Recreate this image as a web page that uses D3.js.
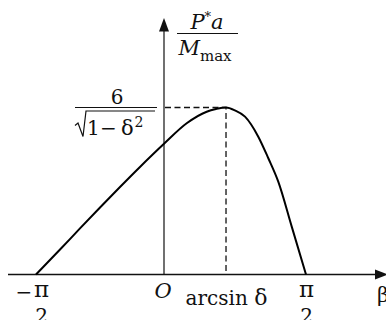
<!DOCTYPE html>
<html>
<head>
<meta charset="utf-8">
<script src="https://cdn.jsdelivr.net/npm/d3@7"></script>
<style>
  body { margin: 0; background: #fff; }
  svg { display: block; }
  text { font-family: "DejaVu Serif", serif; fill: #111; }
</style>
</head>
<body>
<svg id="chart" width="386" height="320"></svg>
<script>
const PI = Math.PI;

// Sampled curve: angle β (radians) and load ratio P*a / M_max
const betaValues  = [-PI / 2, -1.276, -1.031, -0.785, -0.540, -0.295, 0, 0.251, 0.472, 0.575, 0.686, 0.785, 0.896, 1.043, 1.154, 1.264, 1.413, PI / 2];
const ratioValues = [0, 1.12, 2.07, 3.01, 3.93, 4.83, 5.87, 6.79, 7.31, 7.43, 7.5, 7.37, 7.09, 6.19, 5.22, 4.17, 2.15, 0];

// Maximum of the curve: β = arcsin δ, value 6/√(1−δ²)
const peakBeta = 0.686;
const peakRatio = 7.5;

// Axis tick positions (β) and their labels
const xTickValues = [-PI / 2, 0, PI / 2];
const xTickNames  = ["−π/2", "O", "π/2"];

const svg = d3.select("#chart");
svg.append("rect").attr("width", 386).attr("height", 320).attr("fill", "#fff");

const x = d3.scaleLinear().domain([-PI / 2, 0, PI / 2]).range([36, 164, 306]);
const y = d3.scaleLinear().domain([0, peakRatio]).range([274.5, 107.5]);

const x0 = x(0), y0 = y(0);

// x axis with arrow
svg.append("line").attr("x1", 8).attr("x2", 378).attr("y1", y0).attr("y2", y0)
  .attr("stroke", "#111").attr("stroke-width", 1.4);
svg.append("path").attr("d", `M388,${y0} L375,${y0 - 5} L375,${y0 + 5} Z`).attr("fill", "#111");

// y axis with arrow
svg.append("line").attr("x1", x0).attr("x2", x0).attr("y1", y0).attr("y2", 30)
  .attr("stroke", "#111").attr("stroke-width", 1.2);
svg.append("path").attr("d", `M${x0},18 L${x0 - 5},31.5 L${x0 + 5},31.5 Z`).attr("fill", "#111");

// dashed guides to the maximum
const px = x(peakBeta), py = y(peakRatio);
svg.append("path")
  .attr("d", `M${x0 + 1},${py} H${px} V${y0}`)
  .attr("fill", "none").attr("stroke", "#111").attr("stroke-width", 1.3)
  .attr("stroke-dasharray", "6,3.5");

// the curve
const line = d3.line().x(d => x(d[0])).y(d => y(d[1])).curve(d3.curveMonotoneX);
svg.append("path")
  .datum(d3.zip(betaValues, ratioValues))
  .attr("d", line)
  .attr("fill", "none").attr("stroke", "#000").attr("stroke-width", 2)
  .attr("stroke-linejoin", "round");

// y-axis title: P*a / M_max
const yt = svg.append("g").attr("transform", `translate(${x0 + 43},33.5)`);
const num = yt.append("text").attr("x", 0).attr("y", -5).attr("text-anchor", "middle").attr("font-size", 21);
num.append("tspan").attr("font-style", "italic").text("P");
num.append("tspan").attr("font-size", 13).attr("dy", -8).text("*");
num.append("tspan").attr("font-style", "italic").attr("dy", 8).text("a");
yt.append("line").attr("x1", -30).attr("x2", 31).attr("y1", 0).attr("y2", 0)
  .attr("stroke", "#111").attr("stroke-width", 1.2);
const den = yt.append("text").attr("x", -2).attr("y", 21.5).attr("text-anchor", "middle").attr("font-size", 21);
den.append("tspan").attr("font-style", "italic").text("M");
den.append("tspan").attr("font-size", 15).attr("dy", 6).text("max");

// peak value label: 6 / √(1−δ²)
const pk = svg.append("g").attr("transform", `translate(${x0 - 89},${py})`);
pk.append("text").attr("x", 42).attr("y", -4).attr("text-anchor", "middle").attr("font-size", 20).text("6");
pk.append("line").attr("x1", 0).attr("x2", 82).attr("y1", 0).attr("y2", 0)
  .attr("stroke", "#111").attr("stroke-width", 1.2);
pk.append("path").attr("d", "M0,18 L3,15.5 L8,29 L11,3.5 H80")
  .attr("fill", "none").attr("stroke", "#111").attr("stroke-width", 1.2).attr("stroke-linejoin", "miter");
pk.append("text").attr("x", 12).attr("y", 27.5).attr("font-size", 20).text("1");
pk.append("text").attr("x", 33.5).attr("y", 27.5).attr("text-anchor", "middle").attr("font-size", 20).text("−");
pk.append("text").attr("x", 46).attr("y", 27.5).attr("font-size", 21).text("δ");
pk.append("text").attr("x", 59.5).attr("y", 19.5).attr("font-size", 14).text("2");

// x tick labels
xTickValues.forEach((v, i) => {
  const name = xTickNames[i];
  const cx = x(v);
  if (name === "O") {
    svg.append("text").attr("x", cx - 1).attr("y", 298).attr("text-anchor", "middle")
      .attr("font-size", 21).attr("font-style", "italic").text("O");
    return;
  }
  const neg = name.startsWith("−");
  const fx = neg ? cx + 5.5 : cx + 0.5;
  if (neg) {
    svg.append("text").attr("x", fx - 17.5).attr("y", 299).attr("text-anchor", "middle")
      .attr("font-size", 20).text("−");
  }
  svg.append("text").attr("x", fx).attr("y", 297).attr("text-anchor", "middle").attr("font-size", 23).text("π");
  svg.append("text").attr("x", fx).attr("y", 322.5).attr("text-anchor", "middle").attr("font-size", 20).text("2");
});

// label under the maximum and the axis name
const lab = svg.append("text").attr("x", px + 0.5).attr("y", 305).attr("text-anchor", "middle").attr("font-size", 20);
lab.append("tspan").text("arcsin ");
lab.append("tspan").attr("font-size", 22).text("δ");
svg.append("text").attr("x", 377).attr("y", 302).attr("font-size", 21).text("β");
</script>
</body>
</html>
